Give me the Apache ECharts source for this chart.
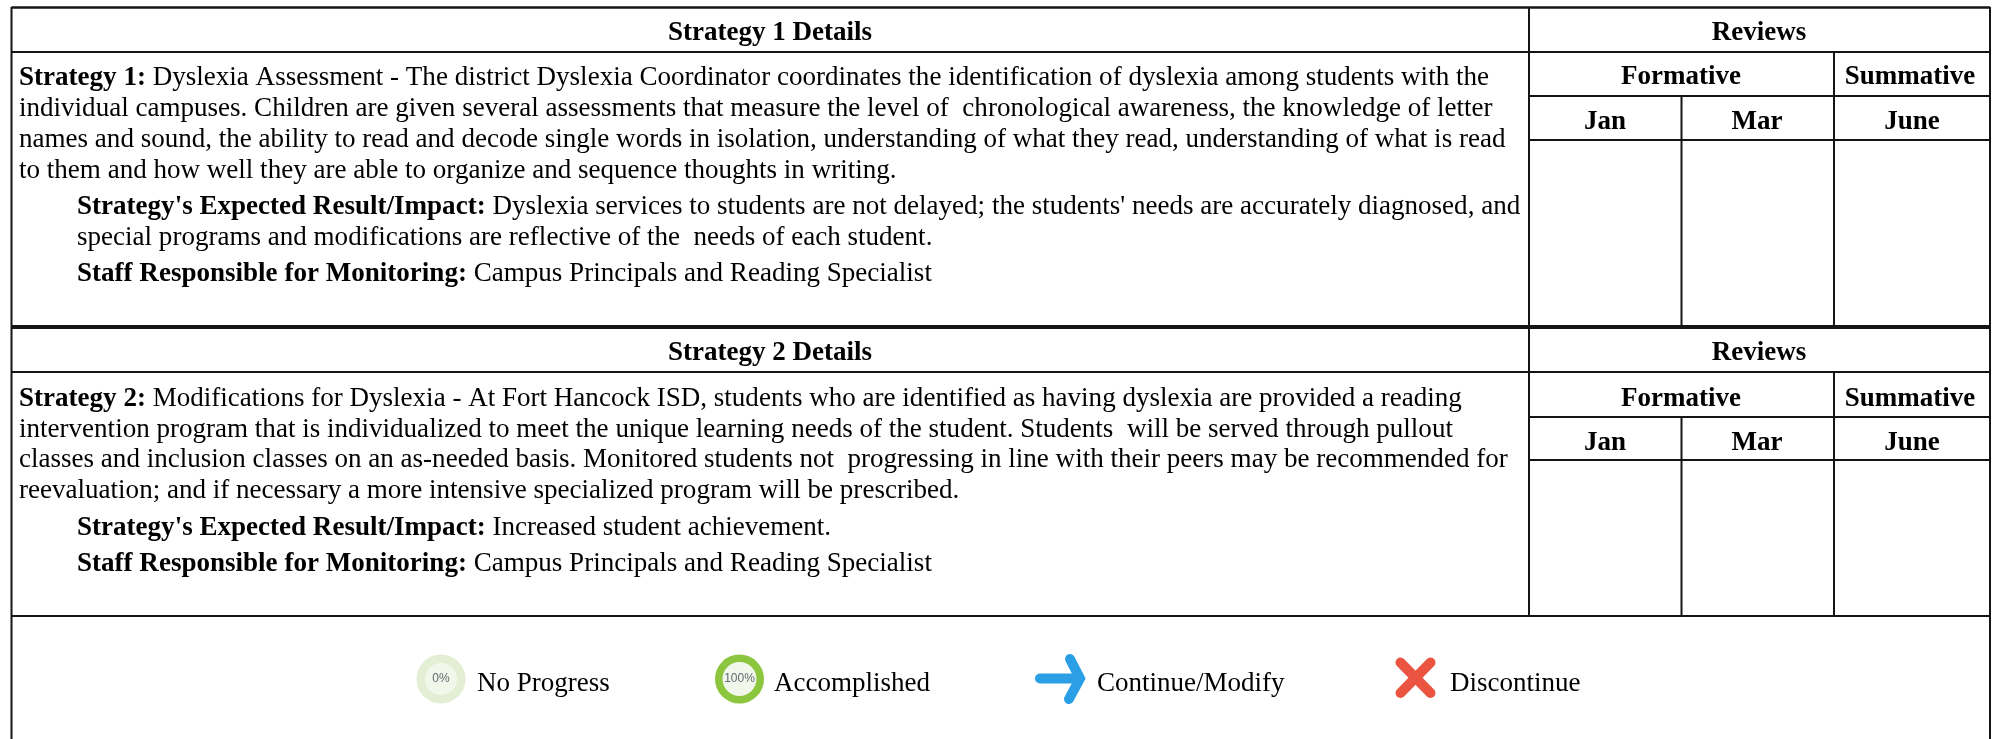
<!DOCTYPE html>
<html><head><meta charset="utf-8">
<style>html,body{margin:0;padding:0;background:#fff}#c{width:1993px;height:739px}</style>
<script src="https://cdn.jsdelivr.net/npm/echarts@6/dist/echarts.min.js"></script>
</head><body><div id="c"></div>
<script>
const strategyHeaders = ['Strategy 1 Details', 'Strategy 2 Details'];
const reviewsLabel = 'Reviews';
const reviewGroups = ['Formative', 'Summative'];
const months = ['Jan', 'Mar', 'June'];
const strategy1Lines = [
  '{b|Strategy 1:} Dyslexia Assessment - The district Dyslexia Coordinator coordinates the identification of dyslexia among students with the',
  'individual campuses. Children are given several assessments that measure the level of  chronological awareness, the knowledge of letter',
  'names and sound, the ability to read and decode single words in isolation, understanding of what they read, understanding of what is read',
  'to them and how well they are able to organize and sequence thoughts in writing.'
];
const strategy1Impact = [
  "{b|Strategy's Expected Result/Impact:} Dyslexia services to students are not delayed; the students' needs are accurately diagnosed, and",
  'special programs and modifications are reflective of the  needs of each student.',
  '{b|Staff Responsible for Monitoring:} Campus Principals and Reading Specialist'
];
const strategy2Lines = [
  '{b|Strategy 2:} Modifications for Dyslexia - At Fort Hancock ISD, students who are identified as having dyslexia are provided a reading',
  'intervention program that is individualized to meet the unique learning needs of the student. Students  will be served through pullout',
  'classes and inclusion classes on an as-needed basis. Monitored students not  progressing in line with their peers may be recommended for',
  'reevaluation; and if necessary a more intensive specialized program will be prescribed.'
];
const strategy2Impact = [
  "{b|Strategy's Expected Result/Impact:} Increased student achievement.",
  '{b|Staff Responsible for Monitoring:} Campus Principals and Reading Specialist'
];
const legendLabels = ['No Progress', 'Accomplished', 'Continue/Modify', 'Discontinue'];
const gaugeLabels = ['0%', '100%'];

const FONT = '"Liberation Serif","Times New Roman",serif';
const BODY = 27.05, HEAD = 27, LEG = 27;
const chart = echarts.init(document.getElementById('c'), null, {renderer: 'canvas'});
const els = [];
function line(x1, y1, x2, y2, w) {
  els.push({type: 'line', shape: {x1, y1, x2, y2}, style: {stroke: '#151515', lineWidth: w || 2}, silent: true});
}
function text(t, x, y, o) {
  o = o || {};
  const size = o.size || BODY;
  els.push({type: 'text', silent: true, style: {
    text: t, x, y, fill: o.fill || '#000', fontFamily: o.family || FONT, fontSize: size,
    fontWeight: o.bold ? 'bold' : 'normal', align: o.align || 'left', verticalAlign: 'middle',
    rich: {b: {fontFamily: FONT, fontSize: size, fontWeight: 'bold', fill: '#000'}}
  }});
}
const L = 11.5, R = 1990, V0 = 1529, V1 = 1681.5, V2 = 1834;
// outer frame
line(L, 7.5, R, 7.5, 2.5);
line(L, 7, L, 739, 2);
line(R, 7, R, 739, 2);
line(V0, 7, V0, 616, 2);
function block(head, y1, y2, bottom, thick) {
  line(L, head, R, head, 2);
  line(V0, y1, R, y1, 2);
  line(V0, y2, R, y2, 2);
  line(V1, y1, V1, bottom, 2);
  line(V2, head, V2, bottom, 2);
  line(L, bottom, R, bottom, thick);
}
block(52, 96, 140, 327, 4);
block(372, 417, 460, 616, 2);

function headers(i, yh, yg, ym) {
  text(strategyHeaders[i], 770, yh, {bold: true, size: HEAD, align: 'center'});
  text(reviewsLabel, 1759, yh, {bold: true, size: HEAD, align: 'center'});
  text(reviewGroups[0], 1681, yg, {bold: true, size: HEAD, align: 'center'});
  text(reviewGroups[1], 1910, yg, {bold: true, size: HEAD, align: 'center'});
  text(months[0], 1605, ym, {bold: true, size: HEAD, align: 'center'});
  text(months[1], 1757, ym, {bold: true, size: HEAD, align: 'center'});
  text(months[2], 1912, ym, {bold: true, size: HEAD, align: 'center'});
}
headers(0, 33, 77, 122);
headers(1, 353, 399, 443);

[78, 109, 140, 171].forEach((y, i) => text(strategy1Lines[i], 19, y));
[207, 238, 274].forEach((y, i) => text(strategy1Impact[i], 77, y));
[399, 430, 460, 491].forEach((y, i) => text(strategy2Lines[i], 19, y));
[528, 564].forEach((y, i) => text(strategy2Impact[i], 77, y));

// legend
const CY = 679;
function gauge(cx, outer, inner, label) {
  els.push({type: 'circle', shape: {cx, cy: CY, r: 24.5}, style: {fill: outer}, silent: true});
  els.push({type: 'circle', shape: {cx, cy: CY, r: inner}, style: {fill: '#f2f7ec'}, silent: true});
  text(label, cx, CY, {family: '"Liberation Sans",Arial,sans-serif', size: 12, fill: '#5f6b72', align: 'center'});
}
gauge(441, '#e3efd4', 16, gaugeLabels[0]);
gauge(739.5, '#8cc63f', 17, gaugeLabels[1]);
text(legendLabels[0], 477, 684, {size: LEG});
text(legendLabels[1], 774, 684, {size: LEG});
text(legendLabels[2], 1097, 684, {size: LEG});
text(legendLabels[3], 1450, 684, {size: LEG});
const blue = {stroke: '#2b9fe6', lineWidth: 10, lineCap: 'round', lineJoin: 'miter', fill: null};
els.push({type: 'line', silent: true, shape: {x1: 1040, y1: 678.5, x2: 1078, y2: 678.5}, style: blue});
els.push({type: 'polyline', silent: true, shape: {points: [[1070, 659], [1080, 678.5], [1069, 699]]}, style: blue});
const red = {stroke: '#eb5440', lineWidth: 10, lineCap: 'round', fill: null};
els.push({type: 'line', silent: true, shape: {x1: 1400.5, y1: 662.5, x2: 1430.5, y2: 693}, style: red});
els.push({type: 'line', silent: true, shape: {x1: 1430.5, y1: 662.5, x2: 1400.5, y2: 693}, style: red});

chart.setOption({animation: false, backgroundColor: '#fff', graphic: {elements: els}});
</script></body></html>
